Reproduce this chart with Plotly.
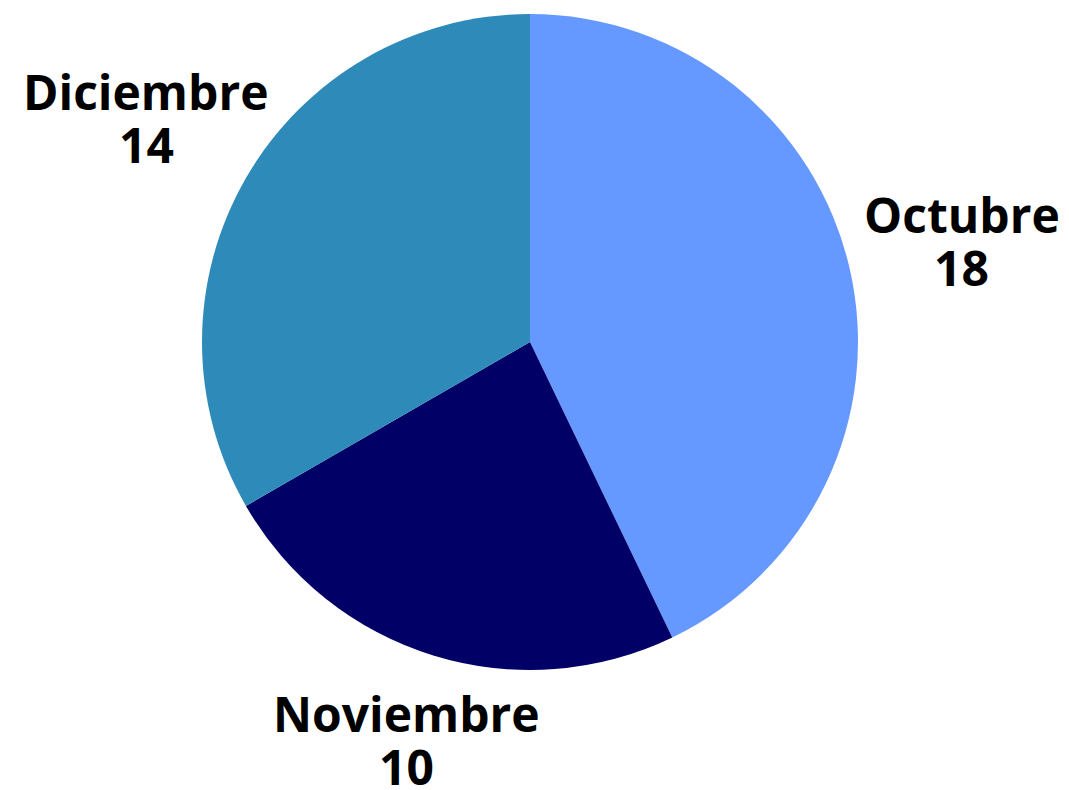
import math
import plotly.graph_objects as go

months = ["Octubre", "Noviembre", "Diciembre"]
counts = [18, 10, 14]
colors = ["#6699FF", "#000066", "#2E8BB9"]

W, H = 1069, 790
# the page body adds an 8px offset, so positions are given in figure px
cx, cy, r = 522, 334, 328
lab_r = 443        # distance of label centre from pie centre
lab_drop = 26      # labels below the pie sit a bit closer
pitch = 53         # line spacing of the two-line labels

fig = go.Figure(
    go.Pie(
        labels=months,
        values=counts,
        sort=False,
        direction="clockwise",
        rotation=0,
        marker=dict(colors=colors, line=dict(width=0)),
        textinfo="none",
        domain=dict(x=[(cx - r) / W, (cx + r) / W],
                    y=[1 - (cy + r) / H, 1 - (cy - r) / H]),
        showlegend=False,
        hoverinfo="label+value",
    )
)

# outside labels at each slice's mid angle
total = sum(counts)
acc = 0
font = dict(family="Open Sans", size=48, color="#000000")
for m, v in zip(months, counts):
    mid = (acc + v / 2) / total * 2 * math.pi
    acc += v
    d = lab_r - lab_drop * max(0.0, -math.cos(mid))
    px = cx + d * math.sin(mid)
    py = cy - d * math.cos(mid) - 2
    for txt, off in ((m, -pitch / 2), (str(v), pitch / 2)):
        fig.add_annotation(
            x=px / W, y=1 - (py + off) / H, xref="paper", yref="paper",
            text=f"<b>{txt}</b>", showarrow=False, font=font,
            xanchor="center", yanchor="middle",
        )

fig.update_layout(
    width=W,
    height=H,
    margin=dict(t=0, b=0, l=0, r=0),
    paper_bgcolor="#ffffff",
    plot_bgcolor="#ffffff",
)

fig.write_html("out.html")
